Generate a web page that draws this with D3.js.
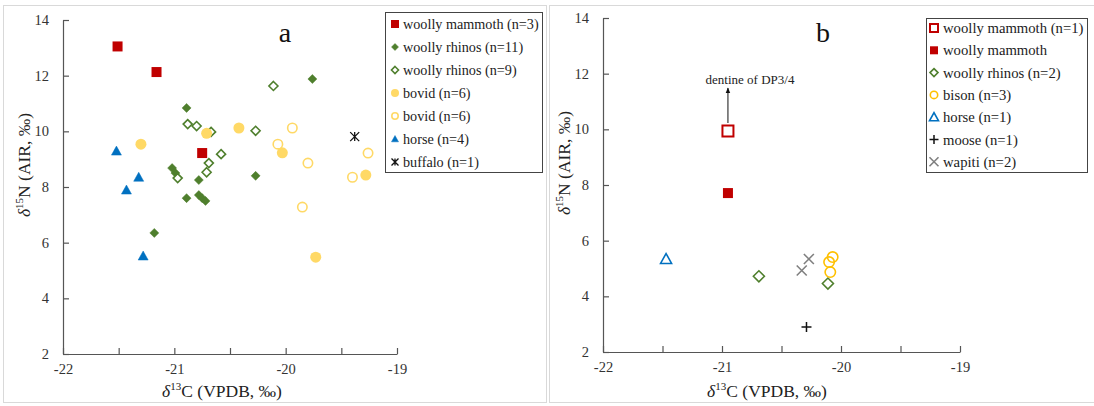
<!DOCTYPE html>
<html>
<head>
<meta charset="utf-8">
<script src="https://cdn.jsdelivr.net/npm/d3@7.9.0/dist/d3.min.js"></script>
<style>
  body { margin: 0; background: #fff; }
  svg text { font-family: "Liberation Serif", "Times New Roman", serif; }
</style>
</head>
<body>
<svg id="chart" width="1094" height="406"></svg>
<script>
// panel a data: [d13C, d15N]
const mammothA = [[-21.51, 13.05], [-21.16, 12.13], [-20.75, 9.22]];
const rhinoFillA = [[-20.89, 10.84], [-19.76, 11.88], [-20.27, 8.40], [-20.78, 8.25], [-20.89, 7.60],
  [-21.02, 8.68], [-20.99, 8.50], [-20.78, 7.71], [-20.75, 7.60], [-20.72, 7.50], [-21.18, 6.35]];
const rhinoOpenA = [[-20.11, 11.63], [-20.88, 10.26], [-20.80, 10.19], [-20.67, 9.98], [-20.27, 10.02],
  [-20.58, 9.18], [-20.69, 8.86], [-20.71, 8.53], [-20.97, 8.32]];
const bovidFillA = [[-21.30, 9.54], [-20.71, 9.93], [-20.42, 10.12], [-20.03, 9.23], [-19.28, 8.43], [-19.73, 5.48]];
const bovidOpenA = [[-19.94, 10.12], [-20.07, 9.54], [-19.80, 8.86], [-19.26, 9.22], [-19.40, 8.35], [-19.85, 7.28]];
const horseA = [[-21.52, 9.29], [-21.32, 8.35], [-21.43, 7.89], [-21.28, 5.52]];
const buffaloA = [[-19.38, 9.81]];

// panel b data
const mammothOpenB = [[-20.95, 9.94]];
const mammothFillB = [[-20.95, 7.71]];
const rhinoB = [[-20.69, 4.72], [-20.11, 4.46]];
const bisonB = [[-20.07, 5.41], [-20.10, 5.23], [-20.09, 4.87]];
const horseB = [[-21.47, 5.34]];
const mooseB = [[-20.29, 2.90]];
const wapitiB = [[-20.27, 5.34], [-20.33, 4.93]];

const xTicks = [-22, -21.5, -21, -20.5, -20, -19.5, -19];
const yTicks = [2, 4, 6, 8, 10, 12, 14];

const RED = '#C00000', GREEN = '#4F7F2D', YEL = '#FFD966', YEL2 = '#FFC000', BLUE = '#0070C0', GRAY = '#808080';

const svg = d3.select('#chart');

// panel frames
svg.append('rect').attr('x', 3.5).attr('y', 5.5).attr('width', 543).attr('height', 397)
  .attr('fill', 'none').attr('stroke', '#d9d9d9');
svg.append('rect').attr('x', 549.5).attr('y', 5.5).attr('width', 560).attr('height', 397)
  .attr('fill', 'none').attr('stroke', '#d9d9d9');

// marker drawing
function drawMarker(g, type, x, y, s) {
  if (type === 'sqFill') {
    g.append('rect').attr('x', x - s / 2).attr('y', y - s / 2).attr('width', s).attr('height', s).attr('fill', RED);
  } else if (type === 'sqOpen') {
    g.append('rect').attr('x', x - s / 2).attr('y', y - s / 2).attr('width', s).attr('height', s)
      .attr('fill', '#fff').attr('stroke', RED).attr('stroke-width', 2);
  } else if (type === 'diaFill' || type === 'diaOpen') {
    const r = s / 2;
    g.append('path').attr('d', `M${x},${y - r}L${x + r},${y}L${x},${y + r}L${x - r},${y}Z`)
      .attr('fill', type === 'diaFill' ? GREEN : '#fff').attr('stroke', GREEN)
      .attr('stroke-width', type === 'diaFill' ? 0.5 : 1.6);
  } else if (type === 'cirFill') {
    g.append('circle').attr('cx', x).attr('cy', y).attr('r', s / 2).attr('fill', YEL);
  } else if (type === 'cirOpen') {
    g.append('circle').attr('cx', x).attr('cy', y).attr('r', s / 2 - 0.8)
      .attr('fill', 'none').attr('stroke', YEL).attr('stroke-width', 1.6);
  } else if (type === 'cirOpen2') {
    g.append('circle').attr('cx', x).attr('cy', y).attr('r', s / 2 - 0.8)
      .attr('fill', 'none').attr('stroke', YEL2).attr('stroke-width', 1.6);
  } else if (type === 'triFill' || type === 'triOpen') {
    const r = s / 2;
    g.append('path').attr('d', `M${x},${y - r}L${x + r},${y + r * 0.8}L${x - r},${y + r * 0.8}Z`)
      .attr('fill', type === 'triFill' ? BLUE : 'none').attr('stroke', BLUE)
      .attr('stroke-width', type === 'triFill' ? 0.5 : 1.6);
  } else if (type === 'star') {
    const r = s / 2;
    g.append('path').attr('d', `M${x - r},${y - r}L${x + r},${y + r}M${x - r},${y + r}L${x + r},${y - r}M${x},${y - r}L${x},${y + r}`)
      .attr('stroke', '#111').attr('stroke-width', 1.3);
  } else if (type === 'plus') {
    const r = s / 2;
    g.append('path').attr('d', `M${x - r},${y}L${x + r},${y}M${x},${y - r}L${x},${y + r}`)
      .attr('stroke', '#111').attr('stroke-width', 1.5);
  } else if (type === 'cross') {
    const r = s / 2;
    g.append('path').attr('d', `M${x - r},${y - r}L${x + r},${y + r}M${x - r},${y + r}L${x + r},${y - r}`)
      .attr('stroke', GRAY).attr('stroke-width', 1.6);
  }
}

function drawPanel(p) {
  const x = d3.scaleLinear().domain([-22, -19]).range([p.left, p.right]);
  const y = d3.scaleLinear().domain([2, 14]).range([p.bottom, p.top]);
  const g = svg.append('g');

  const xAxis = g.append('g').attr('transform', `translate(0,${p.bottom})`)
    .call(d3.axisBottom(x).tickValues(xTicks).tickSizeInner(-6).tickSizeOuter(0).tickPadding(10)
      .tickFormat(d => Number.isInteger(d) ? d : ''));
  const yAxis = g.append('g').attr('transform', `translate(${p.left},0)`)
    .call(d3.axisLeft(y).tickValues(yTicks).tickSizeInner(-6).tickSizeOuter(0).tickPadding(14));
  [xAxis, yAxis].forEach(a => {
    a.selectAll('path, line').attr('stroke', '#555').attr('stroke-width', 1.2);
    a.selectAll('text').attr('font-size', 14.5).attr('fill', '#333');
  });

  // axis titles
  const xt = g.append('text').attr('x', p.xtX).attr('y', 397).attr('text-anchor', 'middle')
    .attr('font-size', 17.5).attr('fill', '#222');
  xt.append('tspan').attr('font-style', 'italic').text('δ');
  xt.append('tspan').attr('font-size', 11).attr('dy', -7).text('13');
  xt.append('tspan').attr('dy', 7).text('C (VPDB, ‰)');

  const yt = g.append('text').attr('transform', `translate(${p.ytX},${p.ytY}) rotate(-90)`)
    .attr('text-anchor', 'middle').attr('font-size', 17.5).attr('fill', '#222');
  yt.append('tspan').attr('font-style', 'italic').text('δ');
  yt.append('tspan').attr('font-size', 11).attr('dy', -7).text('15');
  yt.append('tspan').attr('dy', 7).text('N (AIR, ‰)');

  // panel letter
  g.append('text').attr('x', p.letterX).attr('y', 42).attr('text-anchor', 'middle')
    .attr('font-size', 28).attr('fill', '#111').text(p.letter);

  // points
  p.series.forEach(s => {
    s.data.forEach(d => drawMarker(g, s.type, x(d[0]), y(d[1]), s.size));
  });

  // legend
  const lg = g.append('g');
  lg.append('rect').attr('x', p.lg.x + 0.5).attr('y', p.lg.y + 0.5).attr('width', p.lg.w).attr('height', p.lg.h)
    .attr('fill', '#fff').attr('stroke', '#444').attr('stroke-width', 1);
  p.series.forEach((s, i) => {
    const cy = p.lg.y + p.lg.first + i * p.lg.step;
    drawMarker(lg, s.type, p.lg.x + p.lg.mx, cy, s.legSize);
    lg.append('text').attr('x', p.lg.x + p.lg.tx).attr('y', cy + 5)
      .attr('font-size', p.lg.fs).attr('fill', '#222').text(s.label);
  });
  return { x, y, g };
}

drawPanel({
  left: 63, right: 397, top: 20, bottom: 354, xtX: 222, ytX: 30, ytY: 165, letter: 'a', letterX: 285,
  lg: { x: 385, y: 12, w: 157, h: 160, first: 12, step: 23, mx: 10, tx: 18, fs: 14.2 },
  series: [
    { data: mammothA, type: 'sqFill', size: 10, legSize: 8, label: 'woolly mammoth (n=3)' },
    { data: rhinoFillA, type: 'diaFill', size: 9, legSize: 7, label: 'woolly rhinos (n=11)' },
    { data: rhinoOpenA, type: 'diaOpen', size: 9, legSize: 7, label: 'woolly rhinos (n=9)' },
    { data: bovidFillA, type: 'cirFill', size: 11, legSize: 8, label: 'bovid (n=6)' },
    { data: bovidOpenA, type: 'cirOpen', size: 11, legSize: 8, label: 'bovid (n=6)' },
    { data: horseA, type: 'triFill', size: 10, legSize: 7, label: 'horse (n=4)' },
    { data: buffaloA, type: 'star', size: 9, legSize: 7, label: 'buffalo (n=1)' }
  ]
});

const pb = drawPanel({
  left: 603, right: 960, top: 18, bottom: 352, xtX: 767, ytX: 570, ytY: 163, letter: 'b', letterX: 823,
  lg: { x: 926, y: 18, w: 161, h: 154, first: 10, step: 22.3, mx: 8, tx: 17, fs: 14.7 },
  series: [
    { data: mammothOpenB, type: 'sqOpen', size: 11, legSize: 8, label: 'woolly mammoth (n=1)' },
    { data: mammothFillB, type: 'sqFill', size: 10, legSize: 8, label: 'woolly mammoth' },
    { data: rhinoB, type: 'diaOpen', size: 11, legSize: 8, label: 'woolly rhinos (n=2)' },
    { data: bisonB, type: 'cirOpen2', size: 12, legSize: 9, label: 'bison (n=3)' },
    { data: horseB, type: 'triOpen', size: 11, legSize: 9, label: 'horse (n=1)' },
    { data: mooseB, type: 'plus', size: 10, legSize: 9, label: 'moose (n=1)' },
    { data: wapitiB, type: 'cross', size: 10, legSize: 9, label: 'wapiti (n=2)' }
  ]
});

// annotation for the dentine sample
const defs = svg.append('defs');
defs.append('marker').attr('id', 'arrow').attr('viewBox', '0 0 10 10').attr('refX', 9).attr('refY', 5)
  .attr('markerWidth', 6).attr('markerHeight', 6).attr('orient', 'auto')
  .append('path').attr('d', 'M0,1L10,5L0,9Z').attr('fill', '#111');
const ax = pb.x(mammothOpenB[0][0]);
pb.g.append('line').attr('x1', ax).attr('y1', pb.y(mammothOpenB[0][1]) - 8).attr('x2', ax).attr('y2', 88)
  .attr('stroke', '#111').attr('stroke-width', 1).attr('marker-end', 'url(#arrow)');
pb.g.append('text').attr('x', 750).attr('y', 84).attr('text-anchor', 'middle')
  .attr('font-size', 13).attr('fill', '#222').text('dentine of DP3/4');
</script>
</body>
</html>
